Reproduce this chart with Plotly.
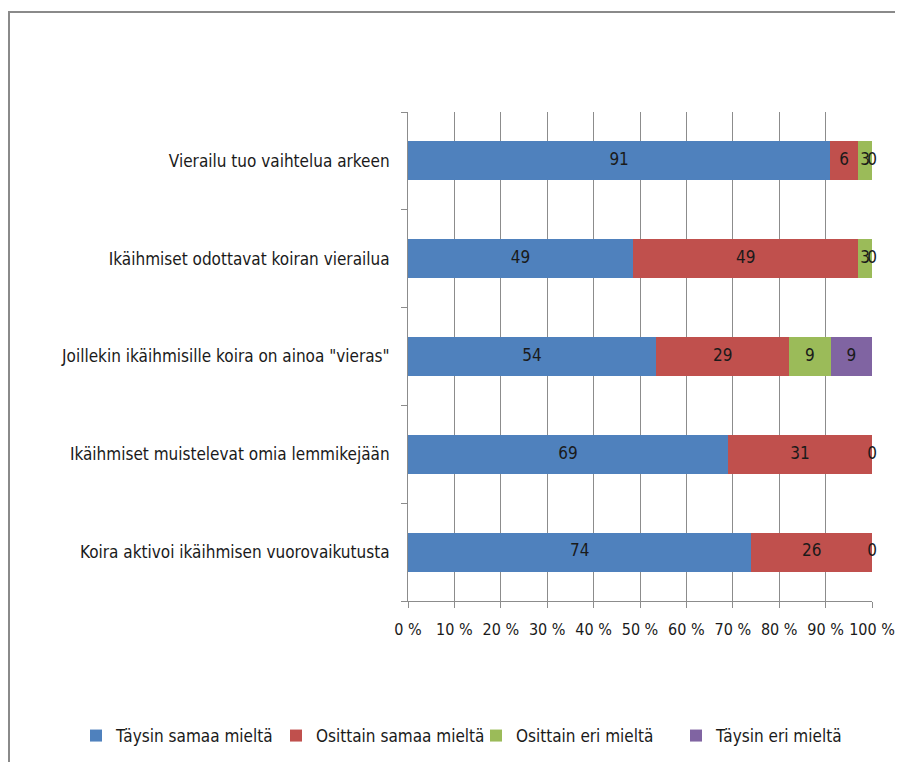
import plotly.graph_objects as go

categories = [
    "Vierailu tuo vaihtelua arkeen",
    "Ikäihmiset odottavat koiran vierailua",
    "Joillekin ikäihmisille koira on ainoa \"vieras\"",
    "Ikäihmiset muistelevat omia lemmikejään",
    "Koira aktivoi ikäihmisen vuorovaikutusta",
]
series_names = ["Täysin samaa mieltä", "Osittain samaa mieltä", "Osittain eri mieltä", "Täysin eri mieltä"]
taysin_samaa = [91, 49, 54, 69, 74]
osittain_samaa = [6, 49, 29, 31, 26]
osittain_eri = [3, 3, 9, 0, 0]
taysin_eri = [0, 0, 9, None, None]
tick_vals = [0, 10, 20, 30, 40, 50, 60, 70, 80, 90, 100]
tick_text = ["0 %", "10 %", "20 %", "30 %", "40 %", "50 %", "60 %", "70 %", "80 %", "90 %", "100 %"]

colors = ["#4F81BD", "#C0504D", "#9BBB59", "#8064A2"]
all_series = [taysin_samaa, osittain_samaa, osittain_eri, taysin_eri]
FONT = "Liberation Sans Narrow, DejaVu Sans Condensed, sans-serif"

OFF = 8  # page body offset
L, T, W, H = 408 - OFF, 112 - OFF, 464, 489
cats_r = categories[::-1]
fig = go.Figure()
for name, vals, col in zip(series_names, all_series, colors):
    v = [x if x is not None else 0 for x in vals][::-1]
    fig.add_trace(go.Bar(y=cats_r, x=v, name=name, orientation="h",
                         marker=dict(color=col, line=dict(width=0)),
                         hoverinfo="skip"))

lx, ly, lt = [], [], []
for i, cat in enumerate(categories):
    row = [s[i] for s in all_series]
    total = sum(x for x in row if x is not None)
    cum = 0
    for x in row:
        if x is None:
            continue
        lx.append((cum + x / 2) / total * 100)
        ly.append(cat)
        lt.append(str(x))
        cum += x
fig.add_trace(go.Scatter(x=lx, y=ly, mode="text", text=lt, showlegend=False,
                         cliponaxis=False,
                         textfont=dict(family=FONT, size=17, color="#1a1a1a"),
                         hoverinfo="skip"))

def px(xpage):
    return (xpage - OFF - L) / W

def py(ypage):
    return (T + H - (ypage - OFF)) / H

fig.update_layout(
    barmode="stack", barnorm="percent", bargap=0.6,
    width=903, height=762,
    margin=dict(l=L, r=903 - L - W, t=T, b=762 - T - H, autoexpand=False),
    paper_bgcolor="white", plot_bgcolor="white",
    font=dict(family=FONT, size=17, color="#1a1a1a"),
    legend=dict(orientation="h", x=px(76), xanchor="left", xref="paper",
                y=py(736), yanchor="middle", yref="paper",
                font=dict(family=FONT, size=17), itemwidth=30,
                entrywidth=155, traceorder="normal"),
    xaxis=dict(range=[0, 100], tickvals=tick_vals, ticktext=tick_text,
               showgrid=True, gridcolor="#8c8c8c", gridwidth=1,
               showline=True, linecolor="#8c8c8c", linewidth=1,
               ticks="outside", ticklen=6, tickcolor="#8c8c8c",
               ticklabelstandoff=8,
               zeroline=False, tickangle=0, tickfont=dict(size=16)),
    yaxis=dict(categoryorder="array", categoryarray=cats_r,
               showline=True, linecolor="#8c8c8c", linewidth=1,
               ticks="outside", ticklen=6, tickcolor="#8c8c8c",
               tickson="boundaries", ticklabelstandoff=14,
               tickfont=dict(size=17)),
    shapes=[dict(type="rect", xref="paper", yref="paper",
                 x0=px(OFF + 1), x1=px(930), y0=py(790), y1=py(12),
                 line=dict(color="#8a8a8a", width=2), layer="below")],
    showlegend=True,
)
fig.write_html("out.html")
